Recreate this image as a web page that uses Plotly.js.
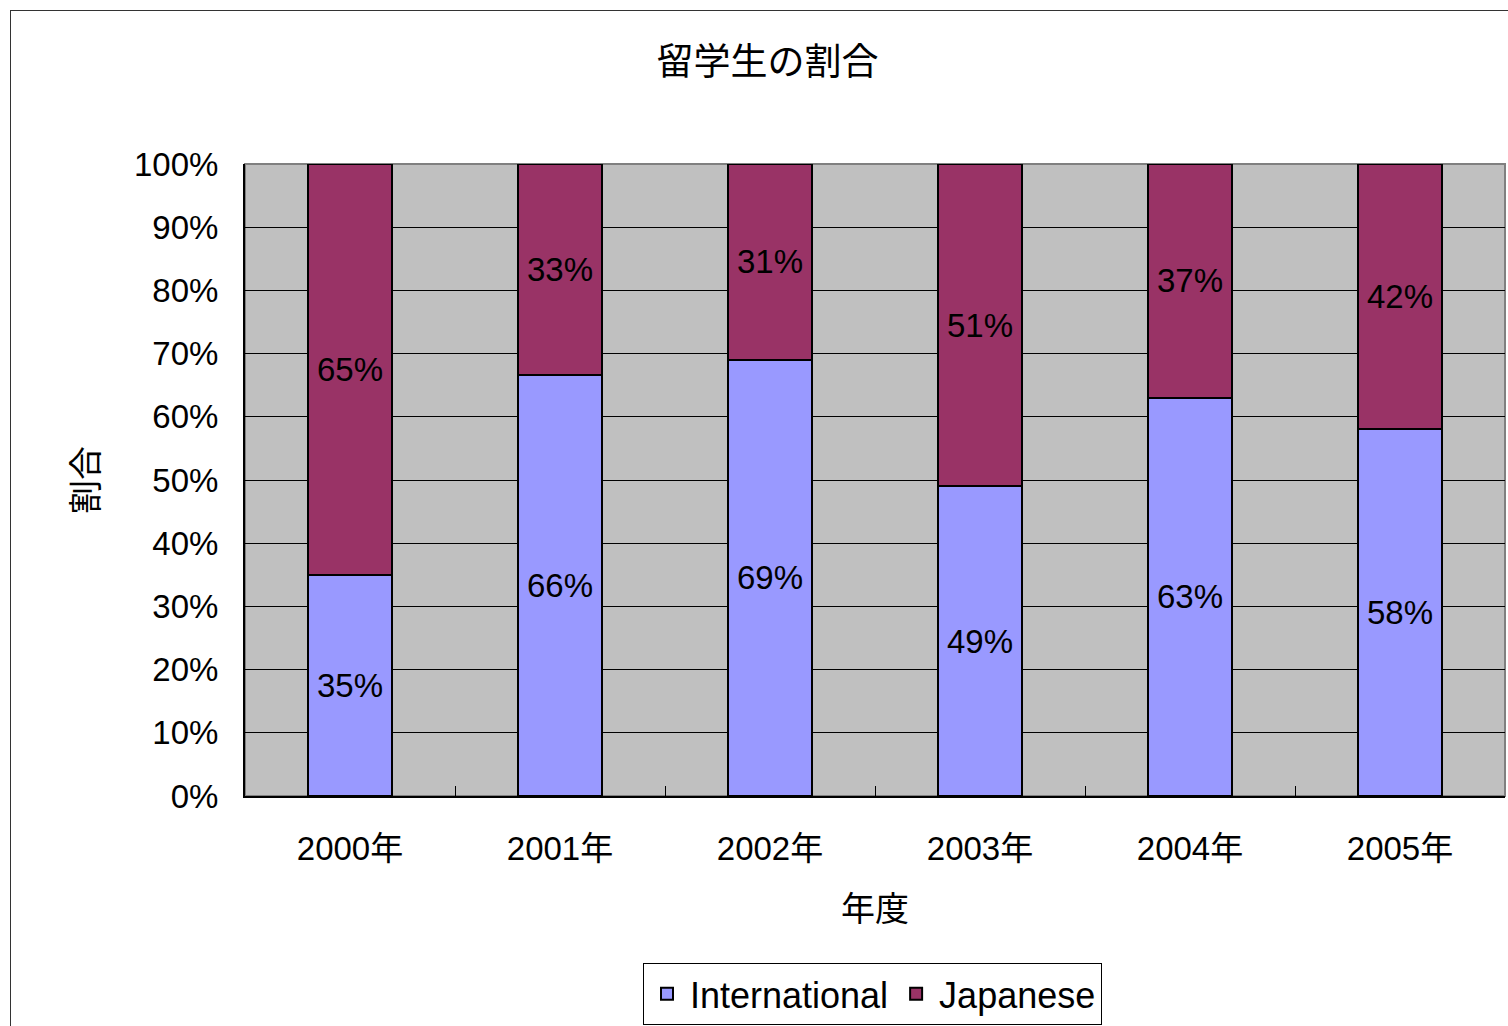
<!DOCTYPE html>
<html>
<head>
<meta charset="utf-8">
<script src="https://cdn.plot.ly/plotly-3.0.1.min.js"></script>
<style>
  html, body { margin: 0; padding: 0; background: #fff; overflow: hidden; }
  #frame { position: absolute; left: 10px; top: 10px; width: 1600px; height: 1100px; border: 1px solid #333; }
  #chart { position: absolute; left: 0; top: 0; width: 1508px; height: 1026px; }
</style>
</head>
<body>
<div id="frame"></div>
<div id="chart"></div>
<script>
/* ── DATA ─────────────────────────────── */
const years = ['2000年', '2001年', '2002年', '2003年', '2004年', '2005年'];
const international = [35, 66, 69, 49, 63, 58];
const japanese = [65, 33, 31, 51, 37, 42];
const seriesNames = ['International', 'Japanese'];
const seriesColors = ['#9999FF', '#993366'];

const FONT = '"Liberation Sans", Arial, "Noto Sans CJK JP", sans-serif';
const CJK = '"Noto Sans CJK JP", sans-serif';

function barTrace(values, name, color) {
  return {
    type: 'bar',
    x: years,
    y: values,
    name,
    width: 0.4,
    marker: { color, line: { color: '#000', width: 2 } },
    text: values.map(v => v + '%'),
    textposition: 'inside',
    insidetextanchor: 'middle',
    textangle: 0,
    textfont: { color: '#000', size: 33, family: FONT },
    hoverinfo: 'skip',
  };
}

const traces = [
  barTrace(international, seriesNames[0], seriesColors[0]),
  barTrace(japanese, seriesNames[1], seriesColors[1]),
];

const layout = {
  width: 1508,
  height: 1026,
  paper_bgcolor: 'rgba(0,0,0,0)',
  plot_bgcolor: '#C0C0C0',
  font: { family: FONT, color: '#000', size: 33 },
  barmode: 'stack',
  barnorm: 'percent',
  margin: { l: 245, r: 3, t: 164, b: 229 },
  title: {
    text: '留学生の割合',
    font: { family: CJK, size: 37, color: '#000' },
    x: 0.509, xanchor: 'center', y: 0.94, yanchor: 'middle',
  },
  xaxis: {
    type: 'category',
    tickson: 'boundaries',
    ticks: 'inside', ticklen: 10, tickcolor: '#000', tickwidth: 1,
    showline: true, linecolor: '#000', linewidth: 2,
    showgrid: false,
    tickfont: { family: FONT, size: 33 },
    ticklabelstandoff: 22,
    title: { text: '年度', font: { family: CJK, size: 34 }, standoff: 32 },
  },
  yaxis: {
    range: [0, 100],
    dtick: 10,
    ticksuffix: '%',
    ticks: 'inside', ticklen: 11, tickcolor: '#000', tickwidth: 1,
    showline: true, linecolor: '#000', linewidth: 2,
    showgrid: true, gridcolor: '#000', gridwidth: 1,
    zeroline: false,
    tickfont: { family: FONT, size: 33 },
    ticklabelstandoff: 18,
    title: { text: '割合', font: { family: CJK, size: 34 }, standoff: 25 },
  },
  showlegend: true,
  legend: {
    orientation: 'h',
    x: 0.498, xanchor: 'center',
    y: -0.262, yanchor: 'top',
    bordercolor: '#000', borderwidth: 1,
    bgcolor: '#fff',
    font: { family: FONT, size: 36 },
    itemwidth: 36,
    traceorder: 'normal',
  },
  shapes: [
    { type: 'rect', xref: 'paper', yref: 'paper', x0: 0, x1: 1, y0: 0, y1: 1,
      line: { color: '#808080', width: 2 }, layer: 'below' },
  ],
};

Plotly.newPlot('chart', traces, layout, { displayModeBar: false, staticPlot: true });
</script>
</body>
</html>
